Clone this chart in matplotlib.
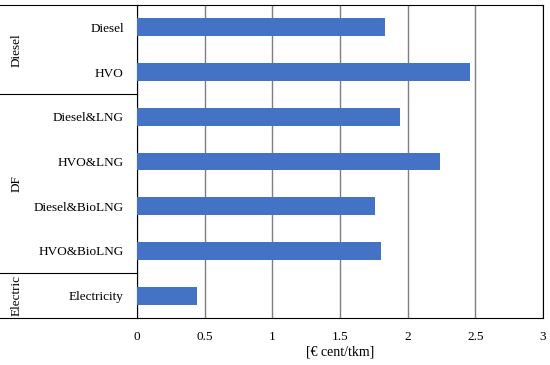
import matplotlib.pyplot as plt
import matplotlib.transforms as mtransforms

categories = ['Diesel', 'HVO', 'Diesel&LNG', 'HVO&LNG', 'Diesel&BioLNG', 'HVO&BioLNG', 'Electricity']
values = [1.83, 2.46, 1.94, 2.24, 1.76, 1.80, 0.44]
groups = ['Diesel', 'DF', 'Electric']
group_sizes = [2, 4, 1]
xticks = [0, 0.5, 1, 1.5, 2, 2.5, 3]
xticklabels = ['0', '0.5', '1', '1.5', '2', '2.5', '3']

plt.rcParams['font.family'] = ['Liberation Serif', 'DejaVu Serif']

fig = plt.figure(figsize=(5.5, 3.65), dpi=100)
ax = fig.add_axes([137 / 550, 47 / 365, 406 / 550, 313 / 365])

ypos = list(range(len(categories)))
ax.barh(ypos, values, height=0.4, color='#4472C4', zorder=3)

ax.set_xlim(0, 3)
ax.set_ylim(len(categories) - 0.5, -0.5)
ax.set_xticks(xticks)
ax.set_xticklabels(xticklabels, fontsize=9.5)
ax.set_yticks(ypos)
ax.set_yticklabels(categories, fontsize=9.5)
ax.tick_params(axis='both', length=0)
ax.tick_params(axis='x', pad=9)
ax.tick_params(axis='y', pad=9.5)
ax.grid(axis='x', color='#7f7f7f', linewidth=1, zorder=0)
for s in ax.spines.values():
    s.set_color('black')
    s.set_linewidth(0.8)

ax.set_xlabel('[€ cent/tkm]', fontsize=10, labelpad=2)

# group separators and labels on the category axis
trans = mtransforms.blended_transform_factory(ax.transAxes, ax.transData)
x0 = -137 / 406
start = -0.5
ax.plot([x0, 0], [start, start], color='black', linewidth=0.8, transform=trans, clip_on=False)
for g, n in zip(groups, group_sizes):
    end = start + n
    ax.plot([x0, 0], [end, end], color='black', linewidth=0.8, transform=trans, clip_on=False)
    ax.text(-0.297, (start + end) / 2, g, rotation=90, ha='center', va='center',
            fontsize=9.5, transform=trans)
    start = end

fig.savefig('out.png', dpi=100)
